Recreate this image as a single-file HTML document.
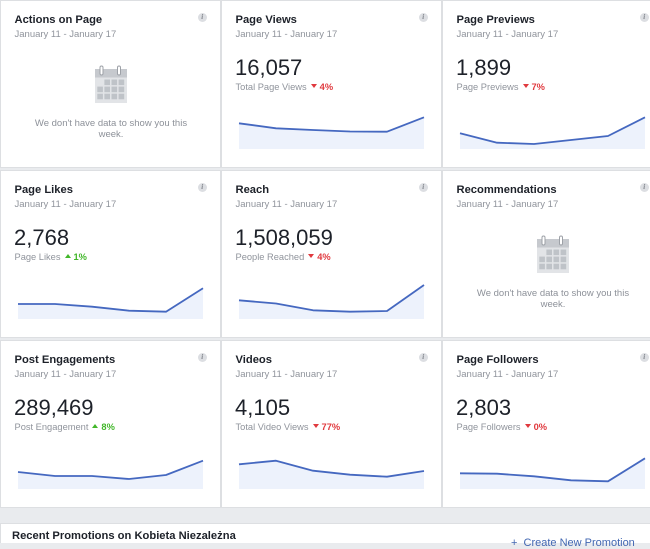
<!DOCTYPE html>
<html>
<head>
<meta charset="utf-8">
<style>
  html, body { margin: 0; padding: 0; }
  body {
    width: 650px; height: 543px; overflow: hidden; position: relative;
    background: #e9ebee;
    font-family: "Liberation Sans", Arial, sans-serif;
  }
  .card {
    position: absolute; width: 221px; height: 168px; background: #fff;
    box-shadow: inset 0 0 0 1px #dddfe2;
  }
  .card > * { position: absolute; }
  .t { left: 14.5px; top: 14.5px; font-size: 11.2px; font-weight: bold; color: #1d2129; line-height: 1; white-space: nowrap; }
  .d { left: 14.5px; top: 29.7px; font-size: 9.5px; color: #90949c; line-height: 1; white-space: nowrap; }
  .n { left: 14px; top: 56.7px; font-size: 22px; color: #1d2129; line-height: 1; white-space: nowrap; }
  .s { left: 14.5px; top: 82.8px; font-size: 9.3px; color: #90949c; line-height: 1; white-space: nowrap; }
  .s .dn { display: inline-block; width: 0; height: 0; border-left: 3px solid transparent; border-right: 3px solid transparent; border-top: 4.5px solid #e0393e; margin: 0 3px 0 4px; position: relative; bottom: 1.5px; }
  .s .up { display: inline-block; width: 0; height: 0; border-left: 3px solid transparent; border-right: 3px solid transparent; border-bottom: 4.5px solid #42b72a; margin: 0 3px 0 4px; position: relative; bottom: 1.5px; }
  .s .r { color: #e0393e; font-weight: bold; }
  .s .g { color: #42b72a; font-weight: bold; }
  .i { left: 197.5px; top: 12.5px; width: 9.5px; height: 9.5px; border-radius: 50%; background: #dcdee2; color: #7d8188; font-size: 7px; font-style: italic; font-weight: bold; line-height: 9.5px; text-align: center; font-family: "Liberation Serif", serif; }
  .e { left: 20px; width: 182px; top: 117.6px; font-size: 9.5px; line-height: 11.6px; color: #8d9199; text-align: center; }
  svg.ch { left: 0; top: 0; }
  .bottom {
    position: absolute; left: 0; top: 523px; width: 650px; height: 20px; background: #fff;
    box-shadow: inset 1px 1px 0 #dddfe2;
  }
  .bt { position: absolute; left: 12px; top: 7.5px; font-size: 11.2px; font-weight: bold; color: #1d2129; line-height: 1; white-space: nowrap; }
  .bl { position: absolute; left: 511px; top: 14.7px; font-size: 11px; color: #4267b2; line-height: 1; white-space: nowrap; }
</style>
</head>
<body>

<!-- Row 1 -->
<div class="card" style="left:0;top:0">
  <div class="t">Actions on Page</div>
  <div class="d">January 11 - January 17</div>
  <div class="i">i</div>
  <svg class="ch" width="221" height="168">
    <rect x="95" y="69" width="32" height="34" fill="#e2e4e7"/>
    <rect x="95" y="69" width="32" height="8.5" fill="#c6c9ce"/>
    <rect x="100" y="66" width="3" height="9" rx="1.5" fill="#fff" stroke="#9da1a7" stroke-width="1"/>
    <rect x="117.5" y="66" width="3" height="9" rx="1.5" fill="#fff" stroke="#9da1a7" stroke-width="1"/>
    <g fill="#bfc3c8">
      <rect x="104.4" y="79.5" width="5.6" height="5.6"/><rect x="111.5" y="79.5" width="5.6" height="5.6"/><rect x="118.6" y="79.5" width="5.6" height="5.6"/>
      <rect x="97.3" y="86.6" width="5.6" height="5.6"/><rect x="104.4" y="86.6" width="5.6" height="5.6"/><rect x="111.5" y="86.6" width="5.6" height="5.6"/><rect x="118.6" y="86.6" width="5.6" height="5.6"/>
      <rect x="97.3" y="93.7" width="5.6" height="5.6"/><rect x="104.4" y="93.7" width="5.6" height="5.6"/><rect x="111.5" y="93.7" width="5.6" height="5.6"/><rect x="118.6" y="93.7" width="5.6" height="5.6"/>
    </g>
  </svg>
  <div class="e">We don't have data to show you this<br>week.</div>
</div>

<div class="card" style="left:221px;top:0">
  <div class="t">Page Views</div>
  <div class="d">January 11 - January 17</div>
  <div class="i">i</div>
  <div class="n">16,057</div>
  <div class="s">Total Page Views<span class="dn"></span><span class="r">4%</span></div>
  <svg class="ch" width="221" height="168">
    <polygon points="18,149 18,123.3 55,128.3 92,130 129,131.5 166,131.7 203,117.3 203,149" fill="#edf2fc"/>
    <polyline points="18,123.3 55,128.3 92,130 129,131.5 166,131.7 203,117.3" fill="none" stroke="#4568c0" stroke-width="1.8" stroke-linejoin="round"/>
  </svg>
</div>

<div class="card" style="left:442px;top:0">
  <div class="t">Page Previews</div>
  <div class="d">January 11 - January 17</div>
  <div class="i">i</div>
  <div class="n">1,899</div>
  <div class="s">Page Previews<span class="dn"></span><span class="r">7%</span></div>
  <svg class="ch" width="221" height="168">
    <polygon points="18,149 18,133.3 55,142.7 92,144 129,140 166,136 203,117.3 203,149" fill="#edf2fc"/>
    <polyline points="18,133.3 55,142.7 92,144 129,140 166,136 203,117.3" fill="none" stroke="#4568c0" stroke-width="1.8" stroke-linejoin="round"/>
  </svg>
</div>

<!-- Row 2 -->
<div class="card" style="left:0;top:170px">
  <div class="t">Page Likes</div>
  <div class="d">January 11 - January 17</div>
  <div class="i">i</div>
  <div class="n">2,768</div>
  <div class="s">Page Likes<span class="up"></span><span class="g">1%</span></div>
  <svg class="ch" width="221" height="168">
    <polygon points="18,149 18,134 55,134 92,136.7 129,140.7 166,141.7 203,118.3 203,149" fill="#edf2fc"/>
    <polyline points="18,134 55,134 92,136.7 129,140.7 166,141.7 203,118.3" fill="none" stroke="#4568c0" stroke-width="1.8" stroke-linejoin="round"/>
  </svg>
</div>

<div class="card" style="left:221px;top:170px">
  <div class="t">Reach</div>
  <div class="d">January 11 - January 17</div>
  <div class="i">i</div>
  <div class="n">1,508,059</div>
  <div class="s">People Reached<span class="dn"></span><span class="r">4%</span></div>
  <svg class="ch" width="221" height="168">
    <polygon points="18,149 18,130.3 55,133.5 92,140.3 129,141.7 166,141 203,115 203,149" fill="#edf2fc"/>
    <polyline points="18,130.3 55,133.5 92,140.3 129,141.7 166,141 203,115" fill="none" stroke="#4568c0" stroke-width="1.8" stroke-linejoin="round"/>
  </svg>
</div>

<div class="card" style="left:442px;top:170px">
  <div class="t">Recommendations</div>
  <div class="d">January 11 - January 17</div>
  <div class="i">i</div>
  <svg class="ch" width="221" height="168">
    <rect x="95" y="69" width="32" height="34" fill="#e2e4e7"/>
    <rect x="95" y="69" width="32" height="8.5" fill="#c6c9ce"/>
    <rect x="100" y="66" width="3" height="9" rx="1.5" fill="#fff" stroke="#9da1a7" stroke-width="1"/>
    <rect x="117.5" y="66" width="3" height="9" rx="1.5" fill="#fff" stroke="#9da1a7" stroke-width="1"/>
    <g fill="#bfc3c8">
      <rect x="104.4" y="79.5" width="5.6" height="5.6"/><rect x="111.5" y="79.5" width="5.6" height="5.6"/><rect x="118.6" y="79.5" width="5.6" height="5.6"/>
      <rect x="97.3" y="86.6" width="5.6" height="5.6"/><rect x="104.4" y="86.6" width="5.6" height="5.6"/><rect x="111.5" y="86.6" width="5.6" height="5.6"/><rect x="118.6" y="86.6" width="5.6" height="5.6"/>
      <rect x="97.3" y="93.7" width="5.6" height="5.6"/><rect x="104.4" y="93.7" width="5.6" height="5.6"/><rect x="111.5" y="93.7" width="5.6" height="5.6"/><rect x="118.6" y="93.7" width="5.6" height="5.6"/>
    </g>
  </svg>
  <div class="e">We don't have data to show you this<br>week.</div>
</div>

<!-- Row 3 -->
<div class="card" style="left:0;top:340px">
  <div class="t">Post Engagements</div>
  <div class="d">January 11 - January 17</div>
  <div class="i">i</div>
  <div class="n">289,469</div>
  <div class="s">Post Engagement<span class="up"></span><span class="g">8%</span></div>
  <svg class="ch" width="221" height="168">
    <polygon points="18,149 18,132 55,136 92,136 129,139 166,135 203,120.7 203,149" fill="#edf2fc"/>
    <polyline points="18,132 55,136 92,136 129,139 166,135 203,120.7" fill="none" stroke="#4568c0" stroke-width="1.8" stroke-linejoin="round"/>
  </svg>
</div>

<div class="card" style="left:221px;top:340px">
  <div class="t">Videos</div>
  <div class="d">January 11 - January 17</div>
  <div class="i">i</div>
  <div class="n">4,105</div>
  <div class="s">Total Video Views<span class="dn"></span><span class="r">77%</span></div>
  <svg class="ch" width="221" height="168">
    <polygon points="18,149 18,124.3 55,120.7 92,130.7 129,134.7 166,136.7 203,131 203,149" fill="#edf2fc"/>
    <polyline points="18,124.3 55,120.7 92,130.7 129,134.7 166,136.7 203,131" fill="none" stroke="#4568c0" stroke-width="1.8" stroke-linejoin="round"/>
  </svg>
</div>

<div class="card" style="left:442px;top:340px">
  <div class="t">Page Followers</div>
  <div class="d">January 11 - January 17</div>
  <div class="i">i</div>
  <div class="n">2,803</div>
  <div class="s">Page Followers<span class="dn"></span><span class="r">0%</span></div>
  <svg class="ch" width="221" height="168">
    <polygon points="18,149 18,133.3 55,133.7 92,136.3 129,140.3 166,141.3 203,118.3 203,149" fill="#edf2fc"/>
    <polyline points="18,133.3 55,133.7 92,136.3 129,140.3 166,141.3 203,118.3" fill="none" stroke="#4568c0" stroke-width="1.8" stroke-linejoin="round"/>
  </svg>
</div>

<div class="bottom">
  <div class="bt">Recent Promotions on Kobieta Niezależna</div>
  <div class="bl">+&nbsp;&nbsp;Create New Promotion</div>
</div>

</body>
</html>
